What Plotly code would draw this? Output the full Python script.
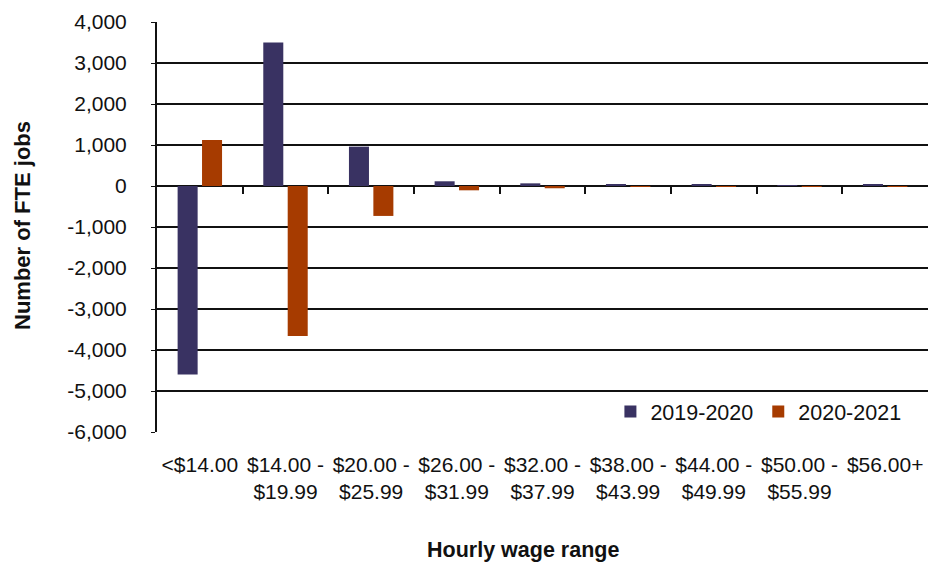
import plotly.graph_objects as go

categories = ["<$14.00", "$14.00 -<br>$19.99", "$20.00 -<br>$25.99", "$26.00 -<br>$31.99",
              "$32.00 -<br>$37.99", "$38.00 -<br>$43.99", "$44.00 -<br>$49.99",
              "$50.00 -<br>$55.99", "$56.00+"]
series_names = ["2019-2020", "2020-2021"]
jobs_2019_2020 = [-4600, 3500, 960, 115, 65, 25, 30, 10, 25]
jobs_2020_2021 = [1120, -3660, -730, -105, -55, -10, -5, -5, -5]
y_ticks = [4000, 3000, 2000, 1000, 0, -1000, -2000, -3000, -4000, -5000, -6000]

FONT = "Liberation Sans, Arial, sans-serif"
TXT = "#111111"
BLUE = "#393262"
ORANGE = "#A63B00"
Y_MIN, Y_MAX = -6000, 4000

x_idx = list(range(len(categories)))

fig = go.Figure()
fig.add_trace(go.Bar(x=x_idx, y=jobs_2019_2020, name=series_names[0], marker_color=BLUE,
                     marker_line_width=0))
fig.add_trace(go.Bar(x=x_idx, y=jobs_2020_2021, name=series_names[1], marker_color=ORANGE,
                     marker_line_width=0))
# invisible trace carrying the category axis drawn along the zero line
fig.add_trace(go.Scatter(x=[0], y=[0], xaxis="x2", mode="markers",
                         marker_opacity=0, showlegend=False, hoverinfo="skip"))

zero_pos = (0 - Y_MIN) / (Y_MAX - Y_MIN)

fig.update_layout(
    width=928, height=563,
    margin=dict(l=157, r=0, t=22, b=131),
    paper_bgcolor="white", plot_bgcolor="white",
    barmode="group", bargap=0.43, bargroupgap=0.18,
    font=dict(family=FONT, size=21, color=TXT),
    showlegend=True,
    legend=dict(orientation="h", x=0.972, xanchor="right", y=0.05, yanchor="middle",
                bgcolor="rgba(0,0,0,0)", font=dict(family=FONT, size=21.5, color=TXT),
                itemwidth=30, traceorder="normal"),
    xaxis=dict(range=[-0.5, len(categories) - 0.5], tickvals=x_idx, ticktext=categories,
               tickangle=0, showgrid=False, zeroline=False, showline=False, ticks="",
               ticklabelstandoff=18, tickfont=dict(family=FONT, size=21, color=TXT)),
    xaxis2=dict(overlaying="x", anchor="free", position=zero_pos,
                range=[-0.5, len(categories) - 0.5],
                tickvals=[i + 0.5 for i in x_idx[:-1]], showticklabels=False,
                ticks="outside", ticklen=7, tickwidth=2, tickcolor=TXT,
                showline=False, showgrid=False, zeroline=False),
    yaxis=dict(range=[Y_MIN, Y_MAX], tickvals=y_ticks,
               ticktext=[f"{v:,}" for v in y_ticks],
               showgrid=True, gridcolor=TXT, gridwidth=1.6,
               zeroline=True, zerolinecolor=TXT, zerolinewidth=2,
               showline=True, linecolor=TXT, linewidth=2,
               ticks="outside", ticklen=4, tickcolor=TXT,
               ticklabelstandoff=20, tickfont=dict(family=FONT, size=21, color=TXT)),
    annotations=[
        dict(text="<b>Hourly wage range</b>", xref="paper", yref="paper",
             x=(523 - 157) / 771, y=-(550 - 432) / 410, showarrow=False,
             xanchor="center", yanchor="middle", font=dict(family=FONT, size=21.5, color=TXT)),
        dict(text="<b>Number of FTE jobs</b>", xref="paper", yref="paper",
             x=-(157 - 22) / 771, y=(432 - 226) / 410, showarrow=False, textangle=-90,
             xanchor="center", yanchor="middle", font=dict(family=FONT, size=22, color=TXT)),
    ],
)

fig.write_html("out.html")
